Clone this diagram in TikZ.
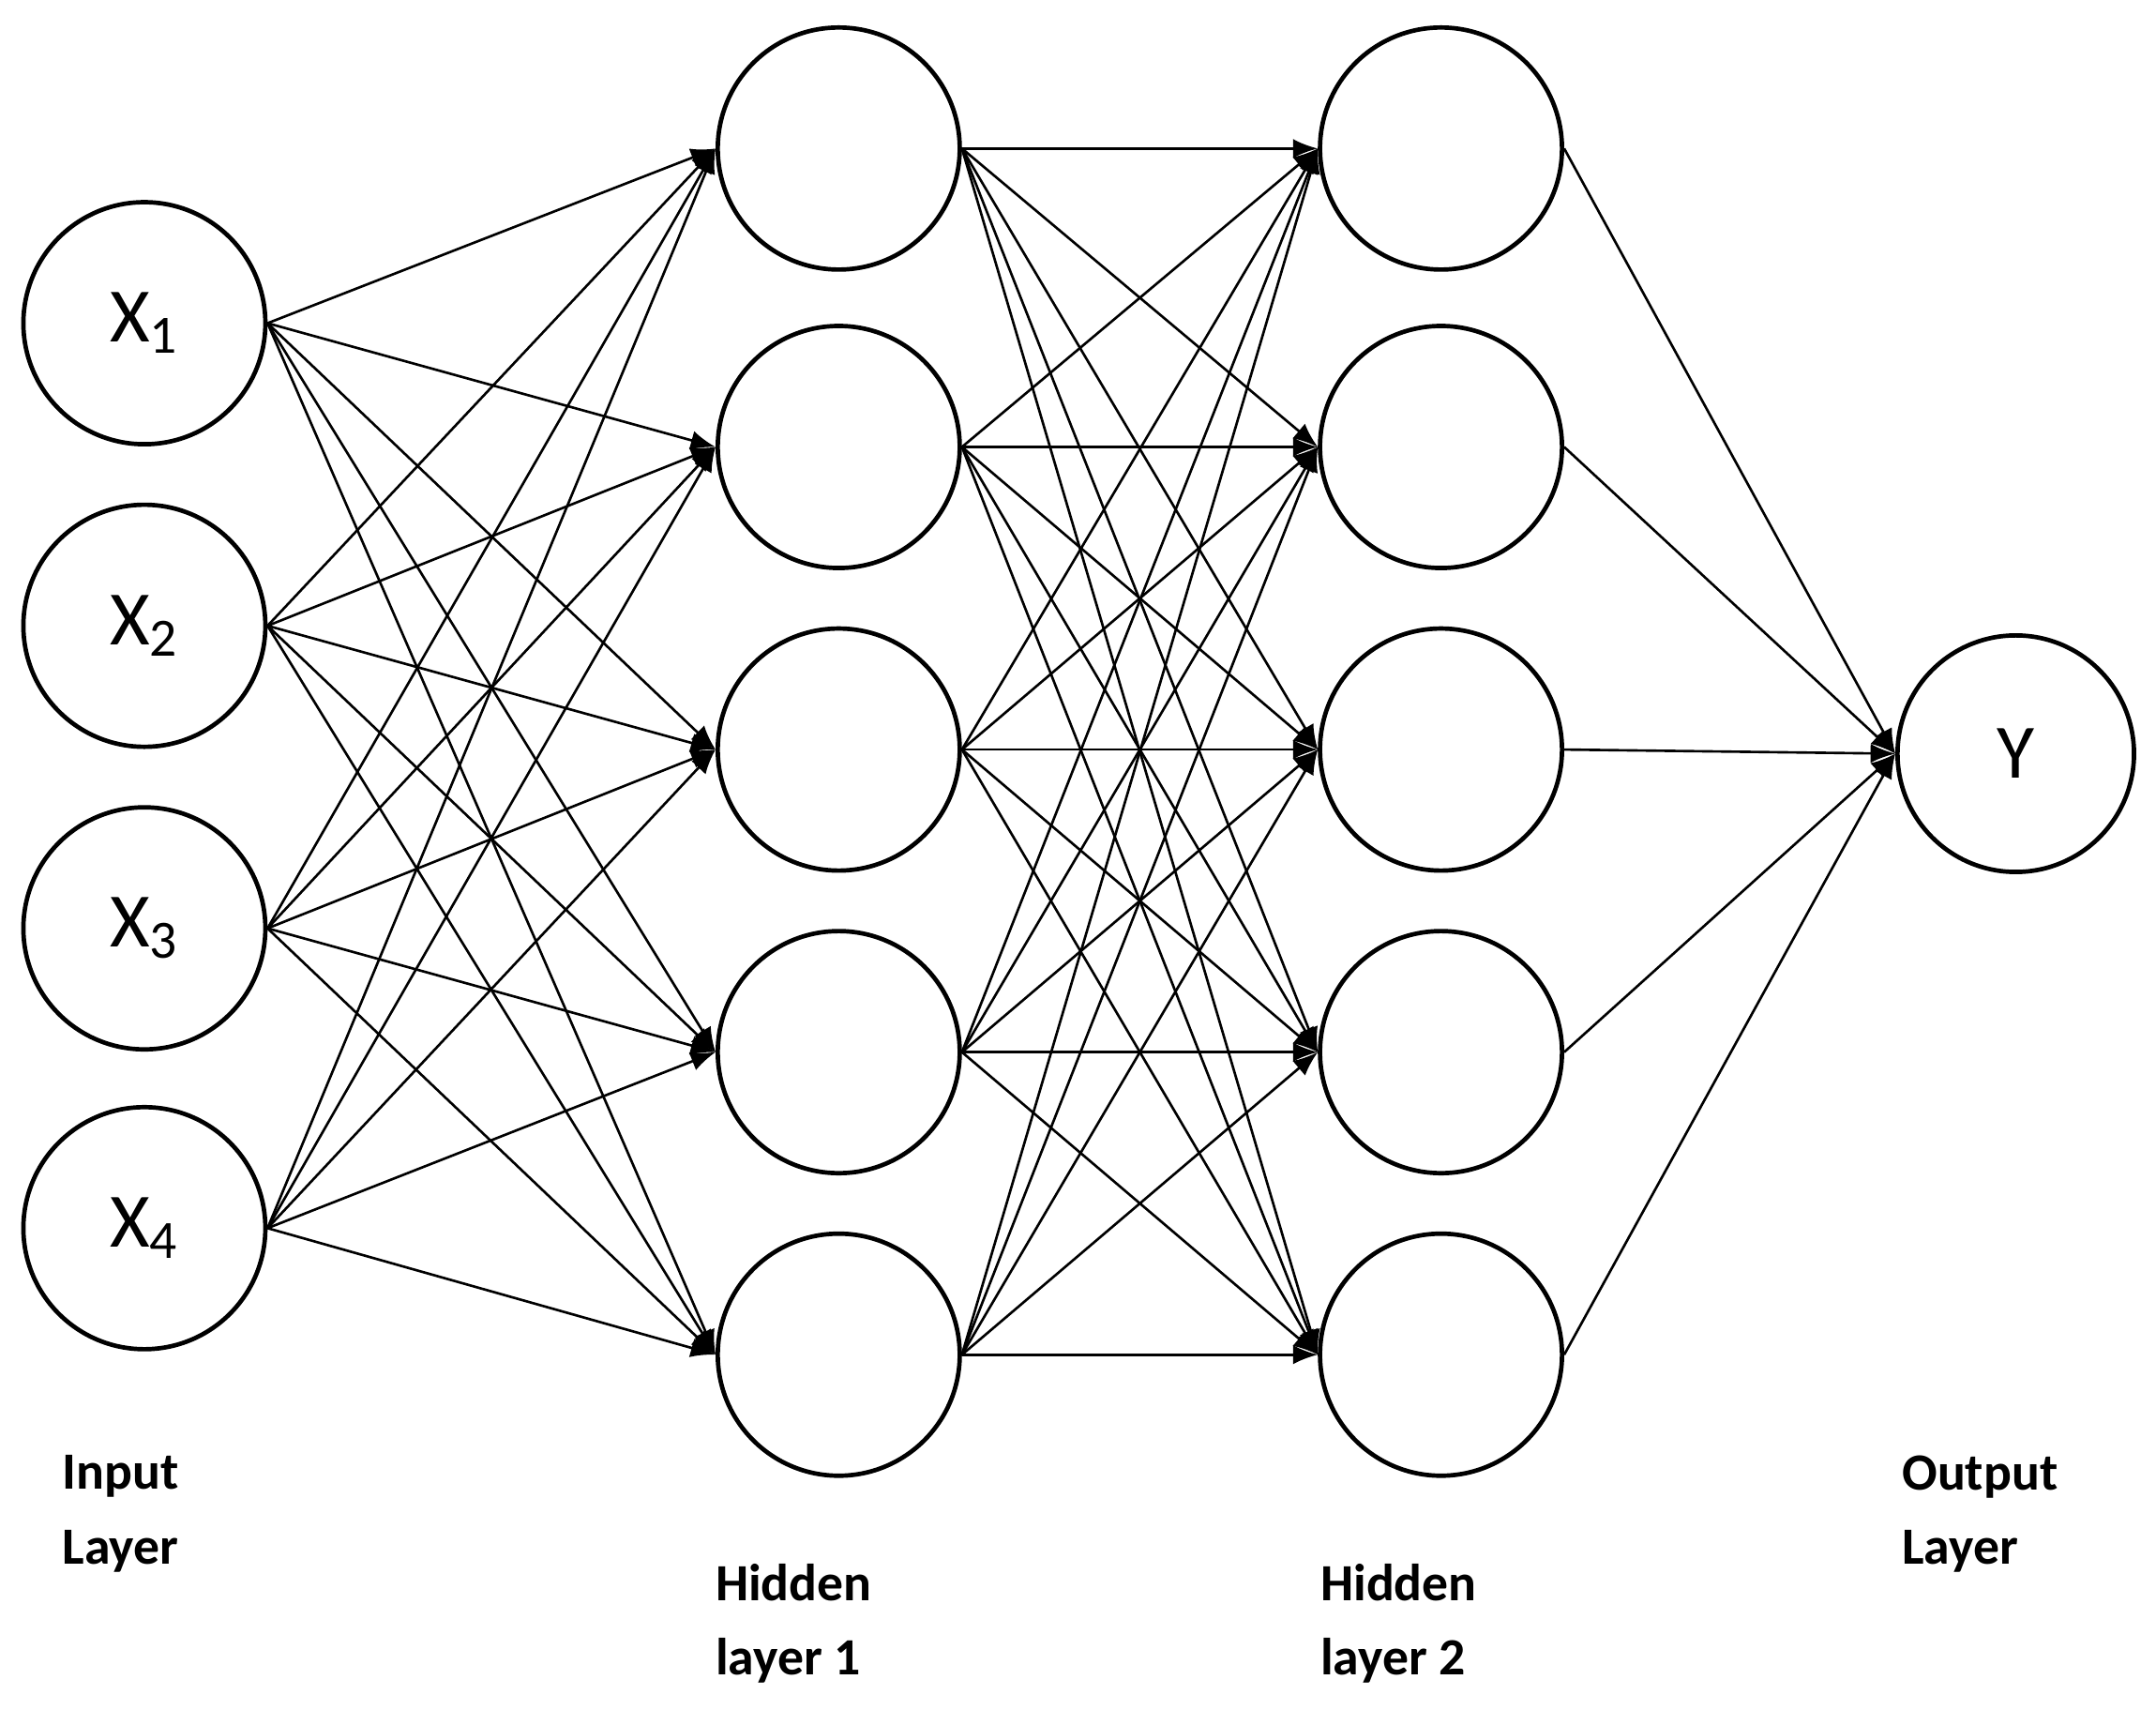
\documentclass[tikz,border=0pt]{standalone}
\usepackage{fontspec}
\setmainfont{Carlito}
\usetikzlibrary{arrows.meta}
\begin{document}
\begin{tikzpicture}[x=0.5pt,y=-0.5pt,
  neuron/.style={circle,draw,line width=1.6pt,minimum size=88pt,inner sep=0pt,font=\fontsize{28}{30}\selectfont},
  conn/.style={line width=0.9pt,-{Latex[length=9pt,width=7pt]}},
  plain/.style={line width=0.9pt},
  lab/.style={font=\bfseries\fontsize{19}{27}\selectfont,align=left,anchor=north west,inner sep=0pt}]
\useasboundingbox (0,0) rectangle (1568,1254);
\foreach \i/\y in {1/235,2/455,3/675,4/893}
  \node[neuron] (x\i) at (105,\y) {X\textsubscript{\i}};
\foreach \i/\y in {1/108,2/325,3/545,4/765,5/985}{
  \node[neuron] (h\i) at (610,\y) {};
  \node[neuron] (g\i) at (1048,\y) {};}
\node[neuron,minimum size=86pt] (y) at (1466,548) {Y};
\foreach \i in {1,...,4}\foreach \j in {1,...,5}
  \draw[conn] (x\i.east) -- (h\j.west);
\foreach \i in {1,...,5}\foreach \j in {1,...,5}
  \draw[conn] (h\i.east) -- (g\j.west);
\foreach \i in {1,...,5}
  \draw[conn] (g\i.east) -- (y.west);
\node[lab] (l1) at (45,1058) {Input\\Layer};
\node[lab] (l2) at (520,1137) {Hidden\\layer 1};
\node[lab] (l3) at (960,1137) {Hidden\\layer 2};
\node[lab] (l4) at (1383,1058) {Output\\Layer};
\end{tikzpicture}
\end{document}
